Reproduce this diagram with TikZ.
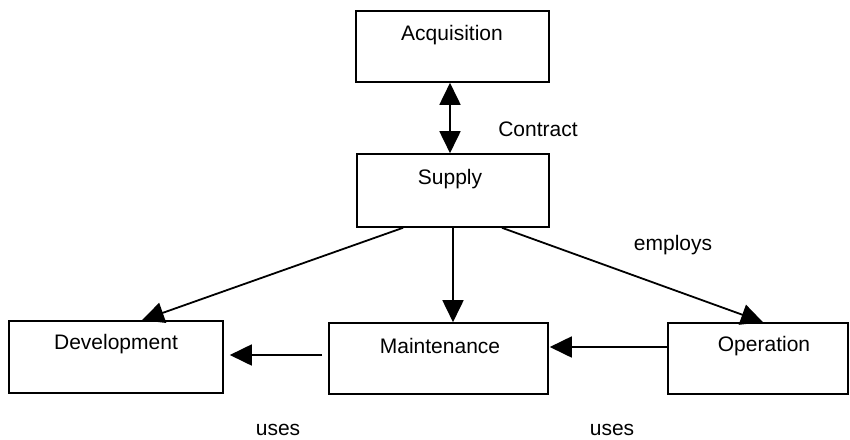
\documentclass[tikz,border=0pt]{standalone}
\usepackage{fontspec}
\setmainfont{Liberation Sans}
\usetikzlibrary{arrows.meta}
\begin{document}
\begin{tikzpicture}[x=1pt,y=-1pt,
  box/.style={draw=black, line width=1.6pt, rectangle, inner sep=0pt},
  txt/.style={inner sep=0pt, font=\fontsize{21}{25}\selectfont, text=black},
  conn/.style={line width=1.8pt, -{Triangle[width=21pt,length=22pt]}},
  biconn/.style={line width=1.8pt, {Triangle[width=21pt,length=22pt]}-{Triangle[width=21pt,length=22pt]}}]
  \useasboundingbox[fill=white] (0,0) rectangle (850,439);

  % process boxes
  \node[box, minimum width=193pt, minimum height=71pt] (acq) at (452.5,46.5) {};
  \node[box, minimum width=192pt, minimum height=73pt] (sup) at (453,190.5) {};
  \node[box, minimum width=214pt, minimum height=72pt] (dev) at (116,357) {};
  \node[box, minimum width=219pt, minimum height=71pt] (mnt) at (438.5,358.5) {};
  \node[box, minimum width=180pt, minimum height=71pt] (opr) at (758,358.5) {};

  % box titles
  \node[txt] (acqt) at (452,35) {Acquisition};
  \node[txt] (supt) at (450,179) {Supply};
  \node[txt] (devt) at (116,344) {Development};
  \node[txt] (mntt) at (440,346) {Maintenance};
  \node[txt] (oprt) at (764,346) {Operation};

  % relation labels
  \node[txt] (contract) at (538,129) {Contract};
  \node[txt] (employs) at (673,245) {employs};
  \node[txt] (uses1) at (278,430) {uses};
  \node[txt] (uses2) at (612,430) {uses};

  % connectors
  \draw[biconn] ([xshift=-2.5pt]acq.south) -- ([xshift=-3pt]sup.north);
  \draw[conn] ([xshift=-50pt]sup.south) -- ([xshift=26pt]dev.north);
  \draw[conn] (sup.south) -- ([xshift=14.5pt]mnt.north);
  \draw[conn] ([xshift=49pt]sup.south) -- ([xshift=5pt]opr.north);
  \draw[conn] ([xshift=-6pt,yshift=3.5pt]mnt.west) -- ([xshift=6pt,yshift=2pt]dev.east);
  \draw[conn] ([yshift=11.5pt]opr.west) -- ([xshift=1pt,yshift=11.5pt]mnt.east);
\end{tikzpicture}
\end{document}
